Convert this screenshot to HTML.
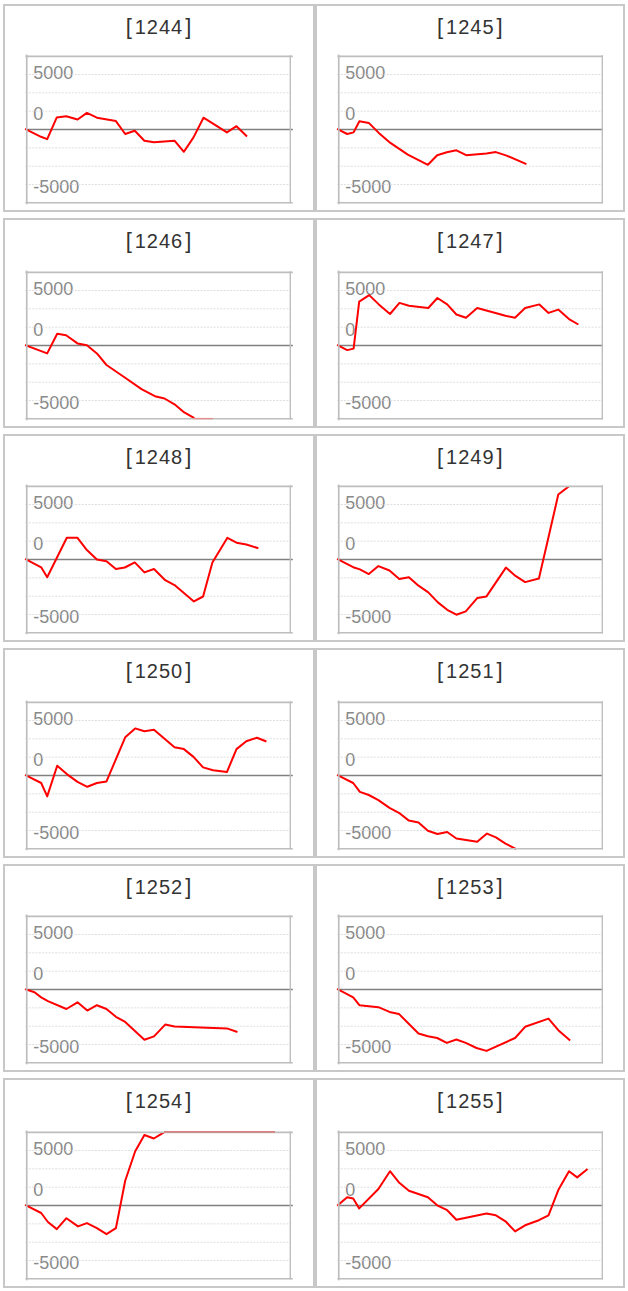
<!DOCTYPE html>
<html><head><meta charset="utf-8"><title>charts</title>
<style>
html,body{margin:0;padding:0;background:#fff;}
svg{display:block;}
text{font-family:"Liberation Sans",sans-serif;}
.t{font-size:20px;fill:#333333;letter-spacing:1px;text-anchor:middle;}
.l{font-size:18px;fill:#8a8a8a;}
</style></head><body>
<svg width="628" height="1291" viewBox="0 0 628 1291">
<rect width="628" height="1291" fill="#fff"/>
<g>
<rect x="4" y="5" width="310" height="206" fill="#fff" stroke="#c8c8c8" stroke-width="2"/>
<text class="t" x="159" y="33.5"><tspan font-size="22">[</tspan><tspan dx="2">1244</tspan><tspan font-size="22" dx="2">]</tspan></text>
<text class="l" x="33.3" y="78.8">5000</text>
<text class="l" x="33.3" y="120">0</text>
<text class="l" x="33.3" y="193.2">-5000</text>
<line x1="25.5" y1="74.49" x2="290" y2="74.49" stroke="#dfdfdf" stroke-width="1" stroke-dasharray="2.1 1.2"/>
<line x1="25.5" y1="92.84" x2="290" y2="92.84" stroke="#dfdfdf" stroke-width="1" stroke-dasharray="2.1 1.2"/>
<line x1="25.5" y1="111.18" x2="290" y2="111.18" stroke="#dfdfdf" stroke-width="1" stroke-dasharray="2.1 1.2"/>
<line x1="25.5" y1="147.87" x2="290" y2="147.87" stroke="#dfdfdf" stroke-width="1" stroke-dasharray="2.1 1.2"/>
<line x1="25.5" y1="166.21" x2="290" y2="166.21" stroke="#dfdfdf" stroke-width="1" stroke-dasharray="2.1 1.2"/>
<line x1="25.5" y1="184.56" x2="290" y2="184.56" stroke="#dfdfdf" stroke-width="1" stroke-dasharray="2.1 1.2"/>
<line x1="27" y1="129.53" x2="292.8" y2="129.53" stroke="#808080" stroke-width="1.5"/>
<clipPath id="c0"><rect x="24" y="55.9" width="270" height="147.8"/></clipPath>
<polyline clip-path="url(#c0)" points="26,129.4 41,136.8 47.2,139.1 56.8,117.4 66.2,116.2 77.6,119.5 86.9,112.9 96.9,117.7 115.9,121.1 125.2,134 134.8,130.7 144.4,140.7 154,142.3 174.5,140.7 183.9,151.8 193.5,137.4 203.5,117.7 226.9,132.4 236.5,126.2 246.3,135.8" fill="none" stroke="#ff0000" stroke-width="2" stroke-linejoin="round" stroke-linecap="square"/>
<path d="M25.4 56.3 H292.8" fill="none" stroke="#bebebe" stroke-width="1.7"/>
<path d="M26.75 54.55 V204.3" fill="none" stroke="#bebebe" stroke-width="1.7"/>
<path d="M290.3 55.15 V203.5" fill="none" stroke="#bebebe" stroke-width="1.4"/>
<path d="M25.4 202.7 H292.8" fill="none" stroke="#bebebe" stroke-width="1.6"/>
</g>
<g>
<rect x="316" y="5" width="308" height="206" fill="#fff" stroke="#c8c8c8" stroke-width="2"/>
<text class="t" x="470.3" y="33.5"><tspan font-size="22">[</tspan><tspan dx="2">1245</tspan><tspan font-size="22" dx="2">]</tspan></text>
<text class="l" x="345.3" y="78.8">5000</text>
<text class="l" x="345.3" y="120">0</text>
<text class="l" x="345.3" y="193.2">-5000</text>
<line x1="337.5" y1="74.49" x2="602" y2="74.49" stroke="#dfdfdf" stroke-width="1" stroke-dasharray="2.1 1.2"/>
<line x1="337.5" y1="92.84" x2="602" y2="92.84" stroke="#dfdfdf" stroke-width="1" stroke-dasharray="2.1 1.2"/>
<line x1="337.5" y1="111.18" x2="602" y2="111.18" stroke="#dfdfdf" stroke-width="1" stroke-dasharray="2.1 1.2"/>
<line x1="337.5" y1="147.87" x2="602" y2="147.87" stroke="#dfdfdf" stroke-width="1" stroke-dasharray="2.1 1.2"/>
<line x1="337.5" y1="166.21" x2="602" y2="166.21" stroke="#dfdfdf" stroke-width="1" stroke-dasharray="2.1 1.2"/>
<line x1="337.5" y1="184.56" x2="602" y2="184.56" stroke="#dfdfdf" stroke-width="1" stroke-dasharray="2.1 1.2"/>
<line x1="339" y1="129.53" x2="603" y2="129.53" stroke="#808080" stroke-width="1.5"/>
<clipPath id="c1"><rect x="336" y="55.9" width="270" height="147.8"/></clipPath>
<polyline clip-path="url(#c1)" points="338,129.4 347.2,134 353.6,132.4 359.4,121.3 368.8,122.9 378.8,132.9 390.4,142.9 407.8,154.7 427.9,164.8 437.2,155.2 446.8,152.3 456.4,150.3 466.2,155.2 486.5,153.4 495.9,152.1 506.6,155.6 525.5,163.7" fill="none" stroke="#ff0000" stroke-width="2" stroke-linejoin="round" stroke-linecap="square"/>
<path d="M337.4 56.3 H603" fill="none" stroke="#bebebe" stroke-width="1.7"/>
<path d="M338.75 54.55 V204.3" fill="none" stroke="#bebebe" stroke-width="1.7"/>
<path d="M602.3 55.15 V203.5" fill="none" stroke="#bebebe" stroke-width="1.4"/>
<path d="M337.4 202.7 H603" fill="none" stroke="#bebebe" stroke-width="1.6"/>
</g>
<g>
<rect x="4" y="219" width="310" height="208" fill="#fff" stroke="#c8c8c8" stroke-width="2"/>
<text class="t" x="159" y="247.5"><tspan font-size="22">[</tspan><tspan dx="2">1246</tspan><tspan font-size="22" dx="2">]</tspan></text>
<text class="l" x="33.3" y="294.8">5000</text>
<text class="l" x="33.3" y="336">0</text>
<text class="l" x="33.3" y="409.2">-5000</text>
<line x1="25.5" y1="290.49" x2="290" y2="290.49" stroke="#dfdfdf" stroke-width="1" stroke-dasharray="2.1 1.2"/>
<line x1="25.5" y1="308.84" x2="290" y2="308.84" stroke="#dfdfdf" stroke-width="1" stroke-dasharray="2.1 1.2"/>
<line x1="25.5" y1="327.18" x2="290" y2="327.18" stroke="#dfdfdf" stroke-width="1" stroke-dasharray="2.1 1.2"/>
<line x1="25.5" y1="363.87" x2="290" y2="363.87" stroke="#dfdfdf" stroke-width="1" stroke-dasharray="2.1 1.2"/>
<line x1="25.5" y1="382.21" x2="290" y2="382.21" stroke="#dfdfdf" stroke-width="1" stroke-dasharray="2.1 1.2"/>
<line x1="25.5" y1="400.56" x2="290" y2="400.56" stroke="#dfdfdf" stroke-width="1" stroke-dasharray="2.1 1.2"/>
<line x1="27" y1="345.52" x2="292.8" y2="345.52" stroke="#808080" stroke-width="1.5"/>
<clipPath id="c2"><rect x="24" y="271.9" width="270" height="147.8"/></clipPath>
<polyline clip-path="url(#c2)" points="26,345.4 47.2,353.4 57.2,333.8 66.1,335.2 77.5,343.4 86.9,345.2 96.9,353.4 106.5,365 124.8,377.5 141.5,389.1 154.9,396.2 164.5,398.5 174.5,404.3 183.4,411.8 193.5,417.6" fill="none" stroke="#ff0000" stroke-width="2" stroke-linejoin="round" stroke-linecap="square"/>
<path d="M25.4 272.3 H292.8" fill="none" stroke="#bebebe" stroke-width="1.7"/>
<path d="M26.75 270.55 V420.3" fill="none" stroke="#bebebe" stroke-width="1.7"/>
<path d="M290.3 271.15 V419.5" fill="none" stroke="#bebebe" stroke-width="1.4"/>
<path d="M25.4 418.7 H292.8" fill="none" stroke="#bebebe" stroke-width="1.6"/>
<line x1="193.5" y1="418.6" x2="213" y2="418.6" stroke="#e59090" stroke-width="1.4"/>
</g>
<g>
<rect x="316" y="219" width="308" height="208" fill="#fff" stroke="#c8c8c8" stroke-width="2"/>
<text class="t" x="470.3" y="247.5"><tspan font-size="22">[</tspan><tspan dx="2">1247</tspan><tspan font-size="22" dx="2">]</tspan></text>
<text class="l" x="345.3" y="294.8">5000</text>
<text class="l" x="345.3" y="336">0</text>
<text class="l" x="345.3" y="409.2">-5000</text>
<line x1="337.5" y1="290.49" x2="602" y2="290.49" stroke="#dfdfdf" stroke-width="1" stroke-dasharray="2.1 1.2"/>
<line x1="337.5" y1="308.84" x2="602" y2="308.84" stroke="#dfdfdf" stroke-width="1" stroke-dasharray="2.1 1.2"/>
<line x1="337.5" y1="327.18" x2="602" y2="327.18" stroke="#dfdfdf" stroke-width="1" stroke-dasharray="2.1 1.2"/>
<line x1="337.5" y1="363.87" x2="602" y2="363.87" stroke="#dfdfdf" stroke-width="1" stroke-dasharray="2.1 1.2"/>
<line x1="337.5" y1="382.21" x2="602" y2="382.21" stroke="#dfdfdf" stroke-width="1" stroke-dasharray="2.1 1.2"/>
<line x1="337.5" y1="400.56" x2="602" y2="400.56" stroke="#dfdfdf" stroke-width="1" stroke-dasharray="2.1 1.2"/>
<line x1="339" y1="345.52" x2="603" y2="345.52" stroke="#808080" stroke-width="1.5"/>
<clipPath id="c3"><rect x="336" y="271.9" width="270" height="147.8"/></clipPath>
<polyline clip-path="url(#c3)" points="338,345.4 347.2,350.1 353.6,348.6 359.2,301.7 369.2,295.1 378.8,304.4 390,314 399.5,302.9 408.9,305.8 428.3,308 437.4,298 447.2,304.4 456.4,314.5 466,317.8 477.2,308 505.5,315.8 515,317.8 525.1,308 539.4,304.4 548.5,312.9 558.3,309.6 569,319.1 577.5,324" fill="none" stroke="#ff0000" stroke-width="2" stroke-linejoin="round" stroke-linecap="square"/>
<path d="M337.4 272.3 H603" fill="none" stroke="#bebebe" stroke-width="1.7"/>
<path d="M338.75 270.55 V420.3" fill="none" stroke="#bebebe" stroke-width="1.7"/>
<path d="M602.3 271.15 V419.5" fill="none" stroke="#bebebe" stroke-width="1.4"/>
<path d="M337.4 418.7 H603" fill="none" stroke="#bebebe" stroke-width="1.6"/>
</g>
<g>
<rect x="4" y="435" width="310" height="206" fill="#fff" stroke="#c8c8c8" stroke-width="2"/>
<text class="t" x="159" y="463.5"><tspan font-size="22">[</tspan><tspan dx="2">1248</tspan><tspan font-size="22" dx="2">]</tspan></text>
<text class="l" x="33.3" y="508.8">5000</text>
<text class="l" x="33.3" y="550">0</text>
<text class="l" x="33.3" y="623.2">-5000</text>
<line x1="25.5" y1="504.49" x2="290" y2="504.49" stroke="#dfdfdf" stroke-width="1" stroke-dasharray="2.1 1.2"/>
<line x1="25.5" y1="522.84" x2="290" y2="522.84" stroke="#dfdfdf" stroke-width="1" stroke-dasharray="2.1 1.2"/>
<line x1="25.5" y1="541.18" x2="290" y2="541.18" stroke="#dfdfdf" stroke-width="1" stroke-dasharray="2.1 1.2"/>
<line x1="25.5" y1="577.87" x2="290" y2="577.87" stroke="#dfdfdf" stroke-width="1" stroke-dasharray="2.1 1.2"/>
<line x1="25.5" y1="596.21" x2="290" y2="596.21" stroke="#dfdfdf" stroke-width="1" stroke-dasharray="2.1 1.2"/>
<line x1="25.5" y1="614.56" x2="290" y2="614.56" stroke="#dfdfdf" stroke-width="1" stroke-dasharray="2.1 1.2"/>
<line x1="27" y1="559.52" x2="292.8" y2="559.52" stroke="#808080" stroke-width="1.5"/>
<clipPath id="c4"><rect x="24" y="485.9" width="270" height="147.8"/></clipPath>
<polyline clip-path="url(#c4)" points="26,559.4 41.2,567.3 47.2,577.3 66.8,537.8 77.5,537.8 86.9,550.1 96.9,559.5 106.5,561.2 115.9,569 124.8,567.5 134.8,562.4 144.4,572.4 154,569 165.2,580.2 174.5,585.1 193.9,601.4 203.1,596.5 212.4,562.4 227.4,537.8 236.5,542.7 246.3,544.5 257.4,547.9" fill="none" stroke="#ff0000" stroke-width="2" stroke-linejoin="round" stroke-linecap="square"/>
<path d="M25.4 486.3 H292.8" fill="none" stroke="#bebebe" stroke-width="1.7"/>
<path d="M26.75 484.55 V634.3" fill="none" stroke="#bebebe" stroke-width="1.7"/>
<path d="M290.3 485.15 V633.5" fill="none" stroke="#bebebe" stroke-width="1.4"/>
<path d="M25.4 632.7 H292.8" fill="none" stroke="#bebebe" stroke-width="1.6"/>
</g>
<g>
<rect x="316" y="435" width="308" height="206" fill="#fff" stroke="#c8c8c8" stroke-width="2"/>
<text class="t" x="470.3" y="463.5"><tspan font-size="22">[</tspan><tspan dx="2">1249</tspan><tspan font-size="22" dx="2">]</tspan></text>
<text class="l" x="345.3" y="508.8">5000</text>
<text class="l" x="345.3" y="550">0</text>
<text class="l" x="345.3" y="623.2">-5000</text>
<line x1="337.5" y1="504.49" x2="602" y2="504.49" stroke="#dfdfdf" stroke-width="1" stroke-dasharray="2.1 1.2"/>
<line x1="337.5" y1="522.84" x2="602" y2="522.84" stroke="#dfdfdf" stroke-width="1" stroke-dasharray="2.1 1.2"/>
<line x1="337.5" y1="541.18" x2="602" y2="541.18" stroke="#dfdfdf" stroke-width="1" stroke-dasharray="2.1 1.2"/>
<line x1="337.5" y1="577.87" x2="602" y2="577.87" stroke="#dfdfdf" stroke-width="1" stroke-dasharray="2.1 1.2"/>
<line x1="337.5" y1="596.21" x2="602" y2="596.21" stroke="#dfdfdf" stroke-width="1" stroke-dasharray="2.1 1.2"/>
<line x1="337.5" y1="614.56" x2="602" y2="614.56" stroke="#dfdfdf" stroke-width="1" stroke-dasharray="2.1 1.2"/>
<line x1="339" y1="559.52" x2="603" y2="559.52" stroke="#808080" stroke-width="1.5"/>
<clipPath id="c5"><rect x="336" y="485.9" width="270" height="147.8"/></clipPath>
<polyline clip-path="url(#c5)" points="338,559.4 353.2,567.2 359.9,569.4 368.8,574.1 378.4,566.1 389.5,570.5 399.3,579 408.9,577.2 418.5,585.7 428.3,592.4 437.9,602.4 447.2,609.8 456.4,614.7 465.8,611.4 477.2,598.1 486.5,596.4 505.9,567.6 515.5,575.9 525.1,582.1 538.9,578.5 547.8,540.2 558.3,494.5 570,485.5" fill="none" stroke="#ff0000" stroke-width="2" stroke-linejoin="round" stroke-linecap="square"/>
<path d="M337.4 486.3 H603" fill="none" stroke="#bebebe" stroke-width="1.7"/>
<path d="M338.75 484.55 V634.3" fill="none" stroke="#bebebe" stroke-width="1.7"/>
<path d="M602.3 485.15 V633.5" fill="none" stroke="#bebebe" stroke-width="1.4"/>
<path d="M337.4 632.7 H603" fill="none" stroke="#bebebe" stroke-width="1.6"/>
</g>
<g>
<rect x="4" y="649" width="310" height="208" fill="#fff" stroke="#c8c8c8" stroke-width="2"/>
<text class="t" x="159" y="677.5"><tspan font-size="22">[</tspan><tspan dx="2">1250</tspan><tspan font-size="22" dx="2">]</tspan></text>
<text class="l" x="33.3" y="724.8">5000</text>
<text class="l" x="33.3" y="766">0</text>
<text class="l" x="33.3" y="839.2">-5000</text>
<line x1="25.5" y1="720.49" x2="290" y2="720.49" stroke="#dfdfdf" stroke-width="1" stroke-dasharray="2.1 1.2"/>
<line x1="25.5" y1="738.84" x2="290" y2="738.84" stroke="#dfdfdf" stroke-width="1" stroke-dasharray="2.1 1.2"/>
<line x1="25.5" y1="757.18" x2="290" y2="757.18" stroke="#dfdfdf" stroke-width="1" stroke-dasharray="2.1 1.2"/>
<line x1="25.5" y1="793.87" x2="290" y2="793.87" stroke="#dfdfdf" stroke-width="1" stroke-dasharray="2.1 1.2"/>
<line x1="25.5" y1="812.21" x2="290" y2="812.21" stroke="#dfdfdf" stroke-width="1" stroke-dasharray="2.1 1.2"/>
<line x1="25.5" y1="830.56" x2="290" y2="830.56" stroke="#dfdfdf" stroke-width="1" stroke-dasharray="2.1 1.2"/>
<line x1="27" y1="775.52" x2="292.8" y2="775.52" stroke="#808080" stroke-width="1.5"/>
<clipPath id="c6"><rect x="24" y="701.9" width="270" height="147.8"/></clipPath>
<polyline clip-path="url(#c6)" points="26,775.4 41.2,783 47.2,796.4 57.2,765.8 66.8,774.1 77.5,781.9 87.3,786.8 96.9,783 106.5,781.4 125.2,737.3 135.2,728.4 144.4,731.3 154,729.7 174.5,747.3 183.9,749.1 193.5,756.9 203.1,767.4 213.1,770.3 226.9,772.1 236.5,749.1 246.3,741.3 257,737.7 265.5,741.1" fill="none" stroke="#ff0000" stroke-width="2" stroke-linejoin="round" stroke-linecap="square"/>
<path d="M25.4 702.3 H292.8" fill="none" stroke="#bebebe" stroke-width="1.7"/>
<path d="M26.75 700.55 V850.3" fill="none" stroke="#bebebe" stroke-width="1.7"/>
<path d="M290.3 701.15 V849.5" fill="none" stroke="#bebebe" stroke-width="1.4"/>
<path d="M25.4 848.7 H292.8" fill="none" stroke="#bebebe" stroke-width="1.6"/>
</g>
<g>
<rect x="316" y="649" width="308" height="208" fill="#fff" stroke="#c8c8c8" stroke-width="2"/>
<text class="t" x="470.3" y="677.5"><tspan font-size="22">[</tspan><tspan dx="2">1251</tspan><tspan font-size="22" dx="2">]</tspan></text>
<text class="l" x="345.3" y="724.8">5000</text>
<text class="l" x="345.3" y="766">0</text>
<text class="l" x="345.3" y="839.2">-5000</text>
<line x1="337.5" y1="720.49" x2="602" y2="720.49" stroke="#dfdfdf" stroke-width="1" stroke-dasharray="2.1 1.2"/>
<line x1="337.5" y1="738.84" x2="602" y2="738.84" stroke="#dfdfdf" stroke-width="1" stroke-dasharray="2.1 1.2"/>
<line x1="337.5" y1="757.18" x2="602" y2="757.18" stroke="#dfdfdf" stroke-width="1" stroke-dasharray="2.1 1.2"/>
<line x1="337.5" y1="793.87" x2="602" y2="793.87" stroke="#dfdfdf" stroke-width="1" stroke-dasharray="2.1 1.2"/>
<line x1="337.5" y1="812.21" x2="602" y2="812.21" stroke="#dfdfdf" stroke-width="1" stroke-dasharray="2.1 1.2"/>
<line x1="337.5" y1="830.56" x2="602" y2="830.56" stroke="#dfdfdf" stroke-width="1" stroke-dasharray="2.1 1.2"/>
<line x1="339" y1="775.52" x2="603" y2="775.52" stroke="#808080" stroke-width="1.5"/>
<clipPath id="c7"><rect x="336" y="701.9" width="270" height="147.8"/></clipPath>
<polyline clip-path="url(#c7)" points="338,775.4 353.2,783 359.9,791.9 368.8,795 378.4,800.1 389.5,807.9 398.9,812.8 408.9,820.6 418.5,822.4 427.9,830.7 437.4,834 447.2,832 456.4,838.5 477.2,841.8 487,833.6 495.9,837.4 505.5,843.6 515.3,848.6" fill="none" stroke="#ff0000" stroke-width="2" stroke-linejoin="round" stroke-linecap="square"/>
<path d="M337.4 702.3 H603" fill="none" stroke="#bebebe" stroke-width="1.7"/>
<path d="M338.75 700.55 V850.3" fill="none" stroke="#bebebe" stroke-width="1.7"/>
<path d="M602.3 701.15 V849.5" fill="none" stroke="#bebebe" stroke-width="1.4"/>
<path d="M337.4 848.7 H603" fill="none" stroke="#bebebe" stroke-width="1.6"/>
</g>
<g>
<rect x="4" y="865" width="310" height="206" fill="#fff" stroke="#c8c8c8" stroke-width="2"/>
<text class="t" x="159" y="893.5"><tspan font-size="22">[</tspan><tspan dx="2">1252</tspan><tspan font-size="22" dx="2">]</tspan></text>
<text class="l" x="33.3" y="938.8">5000</text>
<text class="l" x="33.3" y="980">0</text>
<text class="l" x="33.3" y="1053.2">-5000</text>
<line x1="25.5" y1="934.49" x2="290" y2="934.49" stroke="#dfdfdf" stroke-width="1" stroke-dasharray="2.1 1.2"/>
<line x1="25.5" y1="952.84" x2="290" y2="952.84" stroke="#dfdfdf" stroke-width="1" stroke-dasharray="2.1 1.2"/>
<line x1="25.5" y1="971.18" x2="290" y2="971.18" stroke="#dfdfdf" stroke-width="1" stroke-dasharray="2.1 1.2"/>
<line x1="25.5" y1="1007.87" x2="290" y2="1007.87" stroke="#dfdfdf" stroke-width="1" stroke-dasharray="2.1 1.2"/>
<line x1="25.5" y1="1026.21" x2="290" y2="1026.21" stroke="#dfdfdf" stroke-width="1" stroke-dasharray="2.1 1.2"/>
<line x1="25.5" y1="1044.56" x2="290" y2="1044.56" stroke="#dfdfdf" stroke-width="1" stroke-dasharray="2.1 1.2"/>
<line x1="27" y1="989.53" x2="292.8" y2="989.53" stroke="#808080" stroke-width="1.5"/>
<clipPath id="c8"><rect x="24" y="915.9" width="270" height="147.8"/></clipPath>
<polyline clip-path="url(#c8)" points="26,989.4 34.5,992.3 41.2,997.4 47.9,1001.2 66.4,1009 77.5,1002.3 87.3,1010.6 96.9,1005.2 106.5,1009 115.9,1016.8 125.2,1021.9 144.4,1039.8 154,1036.4 165.2,1024.6 174.5,1026.6 226.9,1028.4 236.5,1031.7" fill="none" stroke="#ff0000" stroke-width="2" stroke-linejoin="round" stroke-linecap="square"/>
<path d="M25.4 916.3 H292.8" fill="none" stroke="#bebebe" stroke-width="1.7"/>
<path d="M26.75 914.55 V1064.3" fill="none" stroke="#bebebe" stroke-width="1.7"/>
<path d="M290.3 915.15 V1063.5" fill="none" stroke="#bebebe" stroke-width="1.4"/>
<path d="M25.4 1062.7 H292.8" fill="none" stroke="#bebebe" stroke-width="1.6"/>
</g>
<g>
<rect x="316" y="865" width="308" height="206" fill="#fff" stroke="#c8c8c8" stroke-width="2"/>
<text class="t" x="470.3" y="893.5"><tspan font-size="22">[</tspan><tspan dx="2">1253</tspan><tspan font-size="22" dx="2">]</tspan></text>
<text class="l" x="345.3" y="938.8">5000</text>
<text class="l" x="345.3" y="980">0</text>
<text class="l" x="345.3" y="1053.2">-5000</text>
<line x1="337.5" y1="934.49" x2="602" y2="934.49" stroke="#dfdfdf" stroke-width="1" stroke-dasharray="2.1 1.2"/>
<line x1="337.5" y1="952.84" x2="602" y2="952.84" stroke="#dfdfdf" stroke-width="1" stroke-dasharray="2.1 1.2"/>
<line x1="337.5" y1="971.18" x2="602" y2="971.18" stroke="#dfdfdf" stroke-width="1" stroke-dasharray="2.1 1.2"/>
<line x1="337.5" y1="1007.87" x2="602" y2="1007.87" stroke="#dfdfdf" stroke-width="1" stroke-dasharray="2.1 1.2"/>
<line x1="337.5" y1="1026.21" x2="602" y2="1026.21" stroke="#dfdfdf" stroke-width="1" stroke-dasharray="2.1 1.2"/>
<line x1="337.5" y1="1044.56" x2="602" y2="1044.56" stroke="#dfdfdf" stroke-width="1" stroke-dasharray="2.1 1.2"/>
<line x1="339" y1="989.53" x2="603" y2="989.53" stroke="#808080" stroke-width="1.5"/>
<clipPath id="c9"><rect x="336" y="915.9" width="270" height="147.8"/></clipPath>
<polyline clip-path="url(#c9)" points="338,989.4 353.2,997.4 359.4,1005.2 378.4,1007.2 389.5,1011.9 398.9,1013.9 418.5,1033.5 427.9,1036.2 437.2,1038 446.8,1042.9 456.4,1039.5 465.8,1042.9 476.5,1048 486.5,1050.9 515.1,1038 525.1,1026.8 548.5,1018.6 558.3,1030.2 569.4,1039.8" fill="none" stroke="#ff0000" stroke-width="2" stroke-linejoin="round" stroke-linecap="square"/>
<path d="M337.4 916.3 H603" fill="none" stroke="#bebebe" stroke-width="1.7"/>
<path d="M338.75 914.55 V1064.3" fill="none" stroke="#bebebe" stroke-width="1.7"/>
<path d="M602.3 915.15 V1063.5" fill="none" stroke="#bebebe" stroke-width="1.4"/>
<path d="M337.4 1062.7 H603" fill="none" stroke="#bebebe" stroke-width="1.6"/>
</g>
<g>
<rect x="4" y="1079" width="310" height="208" fill="#fff" stroke="#c8c8c8" stroke-width="2"/>
<text class="t" x="159" y="1107.5"><tspan font-size="22">[</tspan><tspan dx="2">1254</tspan><tspan font-size="22" dx="2">]</tspan></text>
<text class="l" x="33.3" y="1154.8">5000</text>
<text class="l" x="33.3" y="1196">0</text>
<text class="l" x="33.3" y="1269.2">-5000</text>
<line x1="25.5" y1="1150.49" x2="290" y2="1150.49" stroke="#dfdfdf" stroke-width="1" stroke-dasharray="2.1 1.2"/>
<line x1="25.5" y1="1168.84" x2="290" y2="1168.84" stroke="#dfdfdf" stroke-width="1" stroke-dasharray="2.1 1.2"/>
<line x1="25.5" y1="1187.18" x2="290" y2="1187.18" stroke="#dfdfdf" stroke-width="1" stroke-dasharray="2.1 1.2"/>
<line x1="25.5" y1="1223.87" x2="290" y2="1223.87" stroke="#dfdfdf" stroke-width="1" stroke-dasharray="2.1 1.2"/>
<line x1="25.5" y1="1242.21" x2="290" y2="1242.21" stroke="#dfdfdf" stroke-width="1" stroke-dasharray="2.1 1.2"/>
<line x1="25.5" y1="1260.56" x2="290" y2="1260.56" stroke="#dfdfdf" stroke-width="1" stroke-dasharray="2.1 1.2"/>
<line x1="27" y1="1205.53" x2="292.8" y2="1205.53" stroke="#808080" stroke-width="1.5"/>
<clipPath id="c10"><rect x="24" y="1131.9" width="270" height="147.8"/></clipPath>
<polyline clip-path="url(#c10)" points="26,1205.4 41.2,1213 47.9,1222 56.8,1229.1 66.4,1218.2 78,1226.4 86.9,1223.1 96.9,1228.2 106.5,1234.2 115.9,1228.2 125.2,1180.7 135.2,1151.3 144.4,1135 153.8,1138.5 164,1132.3" fill="none" stroke="#ff0000" stroke-width="2" stroke-linejoin="round" stroke-linecap="square"/>
<path d="M25.4 1132.3 H292.8" fill="none" stroke="#bebebe" stroke-width="1.7"/>
<path d="M26.75 1130.55 V1280.3" fill="none" stroke="#bebebe" stroke-width="1.7"/>
<path d="M290.3 1131.15 V1279.5" fill="none" stroke="#bebebe" stroke-width="1.4"/>
<path d="M25.4 1278.7 H292.8" fill="none" stroke="#bebebe" stroke-width="1.6"/>
<line x1="164" y1="1131.9" x2="275" y2="1131.9" stroke="#d96060" stroke-width="1.4"/>
</g>
<g>
<rect x="316" y="1079" width="308" height="208" fill="#fff" stroke="#c8c8c8" stroke-width="2"/>
<text class="t" x="470.3" y="1107.5"><tspan font-size="22">[</tspan><tspan dx="2">1255</tspan><tspan font-size="22" dx="2">]</tspan></text>
<text class="l" x="345.3" y="1154.8">5000</text>
<text class="l" x="345.3" y="1196">0</text>
<text class="l" x="345.3" y="1269.2">-5000</text>
<line x1="337.5" y1="1150.49" x2="602" y2="1150.49" stroke="#dfdfdf" stroke-width="1" stroke-dasharray="2.1 1.2"/>
<line x1="337.5" y1="1168.84" x2="602" y2="1168.84" stroke="#dfdfdf" stroke-width="1" stroke-dasharray="2.1 1.2"/>
<line x1="337.5" y1="1187.18" x2="602" y2="1187.18" stroke="#dfdfdf" stroke-width="1" stroke-dasharray="2.1 1.2"/>
<line x1="337.5" y1="1223.87" x2="602" y2="1223.87" stroke="#dfdfdf" stroke-width="1" stroke-dasharray="2.1 1.2"/>
<line x1="337.5" y1="1242.21" x2="602" y2="1242.21" stroke="#dfdfdf" stroke-width="1" stroke-dasharray="2.1 1.2"/>
<line x1="337.5" y1="1260.56" x2="602" y2="1260.56" stroke="#dfdfdf" stroke-width="1" stroke-dasharray="2.1 1.2"/>
<line x1="339" y1="1205.53" x2="603" y2="1205.53" stroke="#808080" stroke-width="1.5"/>
<clipPath id="c11"><rect x="336" y="1131.9" width="270" height="147.8"/></clipPath>
<polyline clip-path="url(#c11)" points="338,1205 347.2,1197.3 353.2,1198.6 359.2,1208.4 378.4,1189 390,1171.2 399.3,1182.8 408.9,1190.8 427.9,1197.3 437.2,1205.3 447.2,1210.2 456.4,1219.8 486.5,1213.5 495.9,1215.3 505.5,1221.3 515.1,1231.4 525.1,1225.3 538.9,1220.2 548.5,1215.3 558.3,1190.1 569,1171.2 577.2,1177.4 586.8,1169.6" fill="none" stroke="#ff0000" stroke-width="2" stroke-linejoin="round" stroke-linecap="square"/>
<path d="M337.4 1132.3 H603" fill="none" stroke="#bebebe" stroke-width="1.7"/>
<path d="M338.75 1130.55 V1280.3" fill="none" stroke="#bebebe" stroke-width="1.7"/>
<path d="M602.3 1131.15 V1279.5" fill="none" stroke="#bebebe" stroke-width="1.4"/>
<path d="M337.4 1278.7 H603" fill="none" stroke="#bebebe" stroke-width="1.6"/>
</g>
</svg>
</body></html>
